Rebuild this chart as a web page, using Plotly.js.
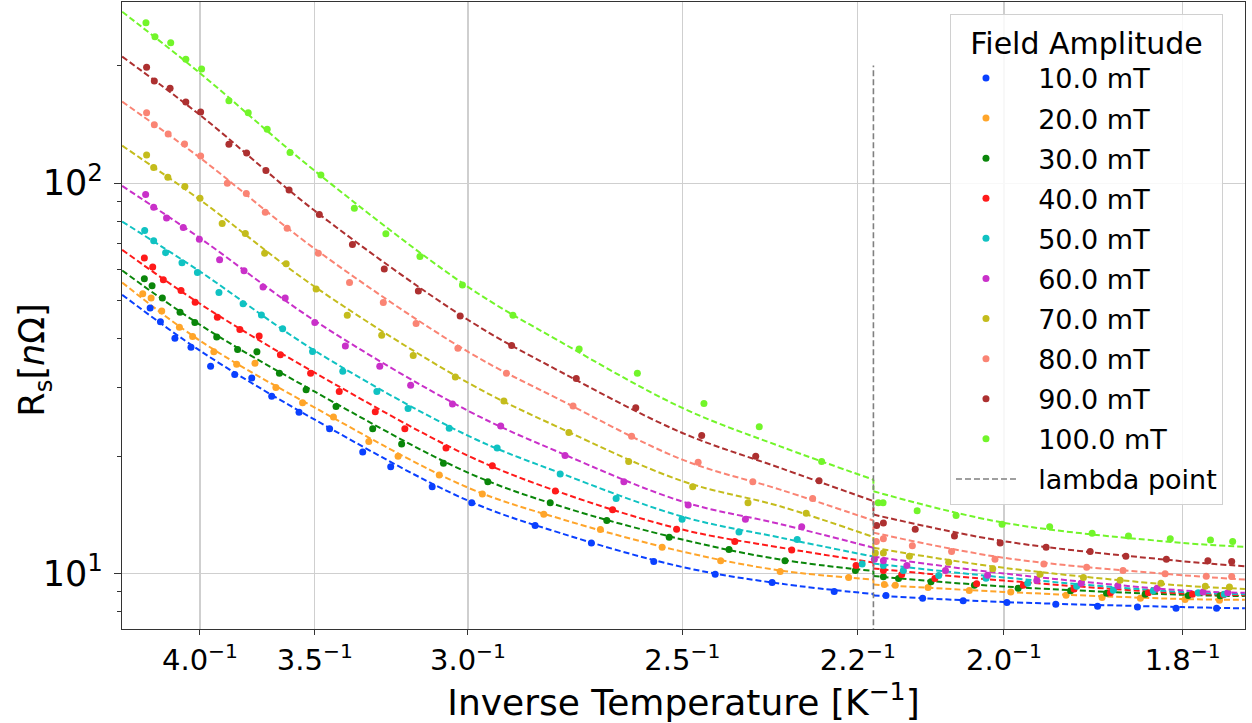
<!DOCTYPE html>
<html>
<head>
<meta charset="utf-8">
<script src="https://cdn.plot.ly/plotly-3.0.1.min.js"></script>
<style>
html,body{margin:0;padding:0;background:#fff;}
#chart{width:1252px;height:723px;}
</style>
</head>
<body>
<div id="chart"></div>
<script>
// ---------- data (x = inverse temperature in 1/K, y = surface resistance in nOhm) ----------
const fieldLabels = ['10.0 mT','20.0 mT','30.0 mT','40.0 mT','50.0 mT','60.0 mT','70.0 mT','80.0 mT','90.0 mT','100.0 mT'];
const fieldColors = ['#0a40ff','#ffa52a','#0a860a','#ff1a1a','#10c2c2','#c930c9','#c4bc1c','#fa8474','#ad3030','#72f52a'];

const x10 = [0.2345,0.2377,0.2422,0.2472,0.2533,0.2608,0.2661,0.2723,0.2808,0.2903,0.3006,0.3093,0.3222,0.3345,0.3542,0.3717,0.3911,0.4102,0.4279,0.4472,0.4633,0.4747,0.4873,0.5009,0.5161,0.5291,0.5415,0.5535,0.5661];
const y10 = [47.9,44.2,40.1,38.0,34.0,32.4,31.7,28.5,25.9,23.5,20.5,18.8,16.7,15.2,13.3,12.0,10.75,9.98,9.50,9.01,8.80,8.66,8.53,8.45,8.36,8.26,8.22,8.17,8.17];

const x20 = [0.2322,0.2348,0.2381,0.2436,0.2477,0.2543,0.2614,0.2671,0.2736,0.2819,0.2915,0.3025,0.3116,0.3244,0.3378,0.3569,0.3745,0.3937,0.4119,0.4304,0.4517,0.4628,0.4662,0.4764,0.4892,0.5021,0.5193,0.5305,0.5424,0.5563,0.5670];
const y20 = [52.1,50.8,47.1,42.8,40.5,37.0,34.4,34.6,30.0,27.4,25.2,21.8,20.0,17.9,16.0,14.2,12.98,11.7,10.8,10.14,9.79,9.39,9.35,9.23,9.07,8.98,8.82,8.70,8.66,8.60,8.56];

const x30 = [0.2327,0.2351,0.2383,0.2438,0.2484,0.2552,0.2617,0.2677,0.2747,0.2830,0.2923,0.3037,0.3127,0.3257,0.3395,0.3589,0.3765,0.3959,0.4145,0.4319,0.4538,0.4625,0.4672,0.4773,0.4908,0.5044,0.5207,0.5319,0.5439,0.5573,0.5672];
const y30 = [56.9,54.6,50.8,46.7,44.0,40.4,37.5,37.0,32.6,29.6,26.8,23.5,21.5,19.2,17.2,15.2,13.7,12.4,11.54,10.8,10.2,9.83,9.73,9.54,9.35,9.19,9.05,8.92,8.87,8.80,8.79];

const x40 = [0.2327,0.2353,0.2386,0.2441,0.2485,0.2554,0.2624,0.2684,0.2750,0.2844,0.2933,0.3045,0.3137,0.3265,0.3409,0.3605,0.3783,0.3982,0.4163,0.4340,0.4540,0.4625,0.4682,0.4785,0.4915,0.5060,0.5218,0.5331,0.5449,0.5586,0.5682];
const y40 = [64.3,61.0,56.6,53.1,49.6,45.4,42.2,40.6,36.4,32.6,29.3,26.0,23.5,21.0,18.9,16.3,14.6,13.0,12.1,11.5,10.5,10.2,9.96,9.73,9.43,9.35,9.15,8.94,8.94,8.86,8.84];

const x50 = [0.2328,0.2356,0.2393,0.2444,0.2492,0.2559,0.2634,0.2691,0.2757,0.2850,0.2944,0.3050,0.3147,0.3275,0.3424,0.3620,0.3794,0.3999,0.4176,0.4357,0.4559,0.4625,0.4687,0.4797,0.4944,0.5074,0.5226,0.5340,0.5464,0.5604,0.5685];
const y50 = [75.6,71.2,66.4,62.6,59.1,52.5,49.1,46.0,42.4,37.1,33.0,29.3,26.5,23.6,21.0,18.0,15.6,13.8,12.8,12.24,10.6,10.5,10.2,9.90,9.75,9.46,9.30,9.08,9.05,8.94,8.87];

const x60 = [0.2331,0.2356,0.2396,0.2448,0.2498,0.2561,0.2637,0.2696,0.2765,0.2857,0.2952,0.3059,0.3155,0.3285,0.3435,0.3635,0.3818,0.4018,0.4196,0.4371,0.4597,0.4625,0.4698,0.4818,0.4949,0.5102,0.5240,0.5354,0.5476,0.5619,0.5696];
const y60 = [93.5,86.8,81.4,77.0,71.9,63.7,59.7,54.2,50.8,44.0,38.3,34.0,30.4,27.2,23.9,20.1,17.2,15.0,13.8,13.2,10.9,10.8,10.5,10.2,9.92,9.61,9.46,9.32,9.19,8.98,8.94];

const x70 = [0.2334,0.2356,0.2400,0.2453,0.2500,0.2569,0.2641,0.2701,0.2768,0.2861,0.2958,0.3065,0.3163,0.3294,0.3445,0.3647,0.3833,0.4032,0.4204,0.4385,0.4600,0.4625,0.4706,0.4828,0.4965,0.5112,0.5247,0.5361,0.5488,0.5626,0.5701];
const y70 = [118.0,109.6,103.6,98.0,91.5,78.8,74.3,66.2,62.2,53.6,45.9,40.8,36.2,31.9,27.7,23.0,19.4,16.7,15.2,14.3,11.3,11.3,11.1,10.7,10.3,9.98,9.79,9.63,9.46,9.30,9.26];

const x80 = [0.2334,0.2358,0.2401,0.2452,0.2502,0.2585,0.2644,0.2703,0.2771,0.2868,0.2965,0.3070,0.3172,0.3302,0.3453,0.3660,0.3842,0.4049,0.4219,0.4405,0.4603,0.4625,0.4715,0.4837,0.4972,0.5124,0.5257,0.5370,0.5501,0.5629,0.5708];
const y80 = [151.5,141.1,133.7,126.0,117.3,100.0,94.1,84.3,76.7,66.2,55.7,49.5,43.7,37.8,32.6,26.9,22.5,19.3,17.2,15.6,12.1,12.3,11.8,11.4,10.9,10.6,10.4,10.2,10.0,9.86,9.85];

const x90 = [0.2334,0.2358,0.2407,0.2456,0.2502,0.2590,0.2645,0.2705,0.2777,0.2871,0.2974,0.3073,0.3179,0.3309,0.3469,0.3670,0.3855,0.4060,0.4228,0.4425,0.4604,0.4625,0.4724,0.4846,0.4988,0.5131,0.5268,0.5379,0.5505,0.5634,0.5708];
const y90 = [198.0,182.6,174.9,161.4,152.1,125.8,119.4,107.7,96.1,83.1,69.7,60.3,53.0,45.7,38.4,31.6,26.6,22.6,20.0,17.3,13.3,13.5,13.0,12.5,12.0,11.7,11.4,11.1,10.9,10.8,10.75];

const x100 = [0.2332,0.2360,0.2409,0.2456,0.2505,0.2590,0.2650,0.2709,0.2780,0.2876,0.2980,0.3078,0.3184,0.3316,0.3473,0.3679,0.3860,0.4067,0.4239,0.4433,0.4609,0.4624,0.4730,0.4851,0.4994,0.5142,0.5274,0.5387,0.5517,0.5642,0.5711];
const y100 = [257.5,237.1,228.9,207.6,196.0,162.6,151.5,137.4,119.8,105.0,86.3,74.2,64.9,54.9,45.9,37.6,32.6,27.3,23.8,19.4,15.2,15.2,14.5,14.1,13.4,13.2,12.7,12.5,12.3,12.2,12.1];

// fitted curves, read at these inverse temperatures (below / above the lambda point)
const fitXPre  = [0.2258,0.25,0.2857,0.3333,0.3619,0.4,0.4304,0.4594];
const fitXPost = [0.4594,0.5,0.5556,0.5749];
const fitPre10  = [51.8,37.25,24.81,15.40,12.73,10.41,9.44,8.88];
const fitPost10 = [8.80,8.47,8.22,8.16];
const fitPre20  = [55.69,39.51,26.63,16.62,13.85,11.40,10.20,9.67];
const fitPost20 = [9.39,8.99,8.62,8.58];
const fitPre30  = [59.77,43.40,29.25,18.16,14.91,12.24,10.88,10.17];
const fitPost30 = [9.87,9.28,8.84,8.77];
const fitPre40  = [67.51,49.12,32.72,20.07,16.18,12.98,11.68,10.69];
const fitPost40 = [10.32,9.61,8.91,8.82];
const fitPre50  = [79.75,59.41,37.25,22.58,18.13,14.01,12.38,11.07];
const fitPost50 = [10.63,9.79,8.98,8.87];
const fitPre60  = [98.36,72.33,44.44,26.16,20.43,15.31,13.41,11.66];
const fitPost60 = [11.07,10.02,9.07,8.94];
const fitPre70  = [124.7,90.63,54.29,30.85,23.63,17.27,14.89,12.42];
const fitPost70 = [11.66,10.36,9.33,9.15];
const fitPre80  = [161.7,116.1,67.91,37.03,27.91,19.60,16.43,13.69];
const fitPost80 = [12.75,10.99,9.92,9.67];
const fitPre90  = [210.8,149.4,84.95,44.70,32.97,22.94,18.67,15.35];
const fitPost90 = [14.18,12.12,10.77,10.46];
const fitPre100  = [274.7,191.2,107.5,54.29,39.34,26.58,21.20,17.42];
const fitPost100 = [16.27,13.51,12.00,11.73];

const lambdaInvT = 0.4594;
const lambdaY = [7, 200];
const lambdaLabel = 'lambda point';

const tickTemps = [4.0,3.5,3.0,2.5,2.2,2.0,1.8];
const yMajorTicks = [10,100];
const yMajorText = ['10<sup>1</sup>','10<sup>2</sup>'];
const yMinorTicks = [8,9,20,30,40,50,60,70,80,90,200];

// ---------- traces ----------
const pts = [[x10,y10],[x20,y20],[x30,y30],[x40,y40],[x50,y50],[x60,y60],[x70,y70],[x80,y80],[x90,y90],[x100,y100]];
const fitsPre = [fitPre10,fitPre20,fitPre30,fitPre40,fitPre50,fitPre60,fitPre70,fitPre80,fitPre90,fitPre100];
const fitsPost = [fitPost10,fitPost20,fitPost30,fitPost40,fitPost50,fitPost60,fitPost70,fitPost80,fitPost90,fitPost100];

const pad = '\u00a0\u00a0';
const traces = [];
const dashStyle = '6px,3px';
for (let i = 0; i < fieldLabels.length; i++) {
  const c = fieldColors[i];
  traces.push({x: fitXPre, y: fitsPre[i], mode:'lines', line:{color:c, width:2, dash:dashStyle, shape:'spline', smoothing:1}, showlegend:false, hoverinfo:'skip'});
  traces.push({x: [lambdaInvT, lambdaInvT], y: [fitsPre[i][fitsPre[i].length-1], fitsPost[i][0]], mode:'lines', line:{color:c, width:2, dash:'4px,2px'}, showlegend:false, hoverinfo:'skip'});
  traces.push({x: fitXPost, y: fitsPost[i], mode:'lines', line:{color:c, width:2, dash:dashStyle, shape:'spline', smoothing:1}, showlegend:false, hoverinfo:'skip'});
}
for (let i = 0; i < fieldLabels.length; i++) {
  traces.push({x: pts[i][0], y: pts[i][1], mode:'markers', name: pad + fieldLabels[i], legendgroup: 'g'+i,
    marker:{color: fieldColors[i], size:7}});
}
traces.push({x:[lambdaInvT, lambdaInvT], y: lambdaY, mode:'lines', name: pad + lambdaLabel, legendgroup:'lam',
  line:{color:'#808080', width:1.6, dash:'6px,3px'}});

const font = 'DejaVu Sans, Liberation Sans, sans-serif';
const layout = {
  width:1252, height:723,
  paper_bgcolor:'#ffffff', plot_bgcolor:'#ffffff',
  font:{family:font, color:'#000'},
  margin:{l:122, r:7, t:2, b:94, pad:0},
  showlegend:true,
  xaxis:{
    range:[0.22575, 0.57494],
    tickmode:'array',
    tickvals: tickTemps.map(t => 1/t),
    ticktext: tickTemps.map(t => t.toFixed(1) + '<sup>\u22121</sup>'),
    ticks:'outside', ticklen:5, tickwidth:1, tickcolor:'#333',
    showgrid:true, gridcolor:'#cfcfcf', gridwidth:1.2,
    showline:true, linecolor:'#333', linewidth:1.2, mirror:true,
    zeroline:false,
    tickfont:{size:29, family:font},
    title:{text:'Inverse Temperature [K<sup>\u22121</sup>]', font:{size:36, family:font}, standoff:0},
    automargin:false
  },
  yaxis:{
    type:'log',
    range:[0.8588, 2.4637],
    tickmode:'array',
    tickvals: yMajorTicks,
    ticktext: yMajorText,
    ticks:'outside', ticklen:7, tickwidth:1, tickcolor:'#333',
    ticklabelstandoff:4,
    minor:{tickmode:'array', tickvals: yMinorTicks, ticks:'outside', ticklen:4, tickwidth:1, tickcolor:'#333', showgrid:false},
    showgrid:true, gridcolor:'#cfcfcf', gridwidth:1.2,
    showline:true, linecolor:'#333', linewidth:1.2, mirror:true,
    zeroline:false,
    tickfont:{size:35, family:font},
    automargin:false
  },
  annotations:[{
    text:'R<sub>s</sub>[<i>n</i>\u03a9]', xref:'paper', yref:'paper',
    x:-0.0775, y:0.4295, xanchor:'center', yanchor:'middle', textangle:-90,
    showarrow:false, font:{size:35, family:font, color:'#000'}
  }],
  legend:{
    x:0.7373, y:0.981, xanchor:'left', yanchor:'top',
    bgcolor:'rgba(255,255,255,0.85)', bordercolor:'#d0d0d0', borderwidth:1,
    font:{size:27, family:font},
    title:{text:'Field Amplitude', side:'top center', font:{size:30, family:font}},
    itemwidth:60, traceorder:'grouped', tracegroupgap:2
  }
};

Plotly.newPlot('chart', traces, layout, {displayModeBar:false, staticPlot:true});
</script>
</body>
</html>
